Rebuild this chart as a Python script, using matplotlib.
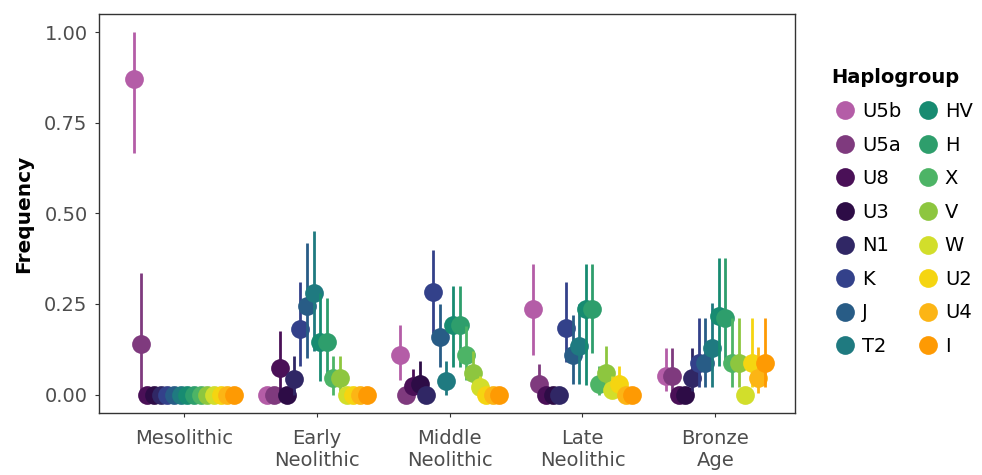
import numpy as np
import matplotlib.pyplot as plt

plt.rcParams['font.family'] = ['DejaVu Sans']

periods = ['Mesolithic', 'Early\nNeolithic', 'Middle\nNeolithic', 'Late\nNeolithic', 'Bronze\nAge']
haplogroups = ['U5b', 'U5a', 'U8', 'U3', 'N1', 'K', 'J', 'T2',
               'HV', 'H', 'X', 'V', 'W', 'U2', 'U4', 'I']
colors = ['#B45DA7', '#7F3A7E', '#4A1057', '#2D0C46', '#302765', '#33418A', '#285C86', '#1F7A80',
          '#178B71', '#2E9E6C', '#4DB466', '#8DC63F', '#D2DE2B', '#F5D511', '#FCB515', '#FE9A03']

# frequency, lower and upper CI per period (order as haplogroups)
freq_meso = [0.87, 0.14, 0, 0, 0, 0, 0, 0, 0, 0, 0, 0, 0, 0, 0, 0]
lo_meso = [0.667, 0.0, 0, 0, 0, 0, 0, 0, 0, 0, 0, 0, 0, 0, 0, 0]
hi_meso = [1.0, 0.335, 0, 0, 0, 0, 0, 0, 0, 0, 0, 0, 0, 0, 0, 0]

freq_early = [0, 0, 0.073, 0, 0.044, 0.18, 0.244, 0.28, 0.145, 0.145, 0.046, 0.046, 0, 0, 0, 0]
lo_early = [0, 0, 0.01, 0, 0, 0.08, 0.10, 0.12, 0.037, 0.03, 0, 0, 0, 0, 0, 0]
hi_early = [0, 0, 0.175, 0, 0.106, 0.311, 0.419, 0.451, 0.28, 0.267, 0.106, 0.106, 0, 0, 0, 0]

freq_middle = [0.11, 0, 0.023, 0.03, 0, 0.283, 0.16, 0.037, 0.193, 0.193, 0.11, 0.06, 0.02, 0, 0, 0]
lo_middle = [0.041, 0, 0, 0, 0, 0.17, 0.075, 0, 0.075, 0.075, 0.04, 0.01, 0, 0, 0, 0]
hi_middle = [0.193, 0, 0.07, 0.092, 0, 0.40, 0.25, 0.092, 0.30, 0.30, 0.19, 0.12, 0.05, 0, 0, 0]

freq_late = [0.235, 0.03, 0, 0, 0, 0.184, 0.11, 0.133, 0.237, 0.237, 0.03, 0.06, 0.012, 0.03, 0, 0]
lo_late = [0.108, 0, 0, 0, 0, 0.09, 0.028, 0.028, 0.026, 0.115, 0, 0.01, 0, 0, 0, 0]
hi_late = [0.36, 0.083, 0, 0, 0, 0.31, 0.22, 0.25, 0.36, 0.36, 0.08, 0.133, 0.05, 0.078, 0, 0]

freq_bronze = [0.05, 0.05, 0, 0, 0.046, 0.087, 0.087, 0.129, 0.216, 0.21, 0.087, 0.087, 0, 0.087, 0.046, 0.087]
lo_bronze = [0.01, 0.01, 0, 0, 0.01, 0.02, 0.02, 0.02, 0.08, 0.08, 0.02, 0.02, 0, 0.02, 0.005, 0.02]
hi_bronze = [0.129, 0.129, 0, 0, 0.129, 0.212, 0.212, 0.253, 0.377, 0.377, 0.21, 0.21, 0, 0.21, 0.13, 0.212]

freq = np.array([freq_meso, freq_early, freq_middle, freq_late, freq_bronze])
lo = np.array([lo_meso, lo_early, lo_middle, lo_late, lo_bronze])
hi = np.array([hi_meso, hi_early, hi_middle, hi_late, hi_bronze])

fig = plt.figure(figsize=(9.82, 4.75), dpi=100)
ax = fig.add_axes([0.1008, 0.1305, 0.7088, 0.84])

xpos = np.arange(1, len(periods) + 1)
n = len(haplogroups)
step = 0.8 / n
for j, (hg, col) in enumerate(zip(haplogroups, colors)):
    x = xpos + (j - (n - 1) / 2) * step
    y = freq[:, j]
    err = np.vstack([y - lo[:, j], hi[:, j] - y])
    ax.errorbar(x, y, yerr=err, fmt='o', color=col, ms=13.5, mew=0,
                elinewidth=2.0, capsize=0, zorder=3 + j, label=hg)

ax.set_xlim(0.36, 5.6)
ax.set_ylim(-0.051, 1.0505)
ax.set_xticks(xpos)
ax.set_xticklabels(periods)
ax.set_yticks([0, 0.25, 0.5, 0.75, 1.0])
ax.set_yticklabels(['0.00', '0.25', '0.50', '0.75', '1.00'])
ax.tick_params(axis='both', labelsize=14, labelcolor='#4D4D4D', color='#333333',
               length=3.2, width=0.8)
ax.tick_params(axis='y', pad=5)
ax.tick_params(axis='x', pad=8)
for t in ax.get_xticklabels():
    t.set_linespacing(1.2)
ax.set_ylabel('Frequency', fontsize=14.5, fontweight='bold')
ax.yaxis.set_label_coords(-0.095, 0.5)
for s in ax.spines.values():
    s.set_color('#333333')
    s.set_linewidth(1.0)

handles, labels = ax.get_legend_handles_labels()
handles = [h[0] for h in handles]
leg = fig.legend(handles, labels, title='Haplogroup', ncol=2, frameon=False,
                 loc='upper left', bbox_to_anchor=(0.8467, 0.856), fontsize=14,
                 title_fontproperties={'weight': 'bold', 'size': 14},
                 handletextpad=0.18, columnspacing=0.67, labelspacing=0.75,
                 handlelength=1.39, borderpad=0, borderaxespad=0)
leg._legend_box.align = 'left'

fig.savefig('out.png', dpi=100)
